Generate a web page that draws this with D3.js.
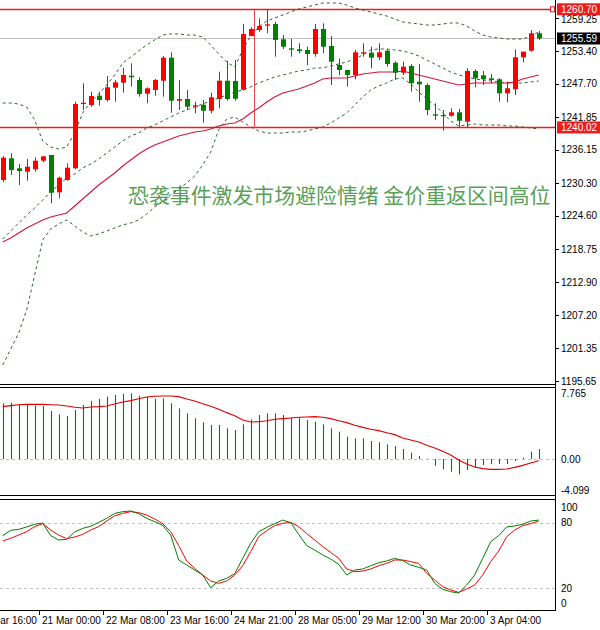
<!DOCTYPE html>
<html><head><meta charset="utf-8">
<script src="https://cdn.jsdelivr.net/npm/d3@7"></script>
<style>body{margin:0;background:#fff}svg{display:block}</style>
</head><body><svg id="c" width="600" height="630"></svg>
<script>
// ---------- DATA ----------
const openP  = [1230.83,1234.62,1232.87,1232.28,1232.70,1234.20,1235.20,1228.67,1230.83,1232.87,1244.13,1243.95,1245.58,1244.83,1246.98,1247.85,1249.08,1248.33,1245.93,1246.58,1248.20,1252.23,1244.70,1245.00,1243.65,1244.00,1242.95,1245.00,1248.20,1248.15,1246.63,1256.03,1257.08,1257.95,1258.13,1255.45,1253.87,1253.70,1253.58,1252.88,1257.25,1254.27,1250.95,1250.08,1249.20,1252.99,1253.10,1252.30,1253.45,1251.35,1249.60,1250.78,1248.03,1247.45,1242.32,1242.20,1242.08,1242.67,1241.03,1249.90,1249.15,1248.62,1248.45,1246.00,1246.70,1252.30,1253.45,1256.50];
const highP  = [1235.03,1235.50,1233.63,1234.50,1234.80,1234.97,1235.20,1231.40,1233.75,1244.53,1247.75,1246.28,1246.28,1249.03,1248.33,1250.48,1251.25,1248.80,1247.05,1248.50,1252.53,1253.17,1248.33,1246.58,1244.53,1244.83,1246.10,1249.78,1251.70,1251.83,1258.13,1257.55,1259.12,1260.70,1258.53,1256.20,1255.50,1254.75,1254.15,1258.13,1258.25,1256.03,1252.12,1250.08,1253.58,1254.75,1254.15,1254.75,1253.70,1251.60,1251.53,1251.13,1251.13,1247.75,1244.25,1243.08,1243.37,1243.25,1250.37,1250.20,1249.90,1249.38,1248.62,1248.03,1253.70,1253.28,1257.08,1256.90];
const lowP   = [1230.48,1231.70,1229.95,1230.70,1232.28,1233.92,1226.75,1227.62,1230.70,1232.70,1243.08,1243.65,1243.83,1244.53,1244.53,1246.10,1247.15,1245.40,1244.25,1245.58,1245.40,1242.60,1243.08,1243.08,1242.50,1240.85,1242.50,1243.37,1244.70,1244.70,1246.45,1256.03,1256.78,1256.50,1252.40,1253.75,1252.40,1252.99,1250.95,1252.40,1252.99,1247.45,1249.20,1247.15,1248.45,1252.40,1250.37,1251.83,1250.65,1248.33,1249.20,1246.28,1244.53,1242.20,1241.33,1239.45,1241.90,1240.05,1239.98,1247.05,1247.45,1247.75,1244.53,1244.42,1245.70,1251.42,1253.28,1255.33];
const closeP = [1234.73,1232.58,1232.40,1233.15,1234.20,1234.97,1228.60,1231.23,1232.98,1244.13,1244.35,1245.53,1244.83,1247.05,1247.92,1249.20,1248.80,1245.88,1246.87,1248.33,1252.23,1244.70,1245.00,1243.65,1243.90,1242.95,1245.30,1248.20,1245.00,1245.05,1256.38,1257.25,1257.78,1258.07,1255.33,1254.15,1253.63,1253.40,1252.88,1257.25,1254.15,1251.53,1250.08,1249.20,1253.17,1253.17,1252.23,1253.17,1251.13,1249.60,1250.65,1247.75,1247.57,1243.08,1242.08,1242.08,1242.67,1241.20,1249.90,1248.62,1248.45,1248.33,1246.00,1246.87,1252.30,1253.28,1256.50,1255.59];

const bbUpper  = [1244.30,1244.30,1244.13,1243.60,1241.33,1237.65,1236.60,1236.25,1236.60,1239.05,1242.55,1244.48,1245.88,1247.45,1249.20,1251.30,1252.35,1253.40,1254.45,1255.33,1256.20,1256.38,1256.38,1256.20,1256.20,1255.85,1254.45,1252.88,1251.48,1250.60,1253.58,1256.03,1257.60,1258.65,1259.18,1259.70,1260.23,1260.75,1261.10,1261.45,1261.80,1261.80,1261.80,1261.45,1260.93,1260.58,1260.23,1259.88,1259.53,1259.00,1258.48,1258.30,1258.13,1257.95,1257.95,1258.13,1258.30,1258.30,1257.78,1256.90,1256.20,1255.85,1255.68,1255.50,1255.50,1255.50,1256.03,1256.73];
const bbMiddle = [1220.50,1221.90,1223.30,1224.70,1225.93,1227.33,1228.73,1229.95,1231.18,1231.88,1232.93,1233.63,1234.50,1235.55,1236.60,1237.65,1238.53,1239.05,1239.93,1240.45,1241.15,1241.85,1242.55,1243.08,1243.60,1244.13,1244.65,1245.18,1245.70,1246.23,1246.58,1247.10,1247.80,1248.33,1248.85,1249.20,1249.55,1249.90,1250.08,1250.43,1250.43,1250.78,1251.13,1251.48,1252.00,1252.70,1253.58,1253.75,1253.75,1253.58,1253.40,1253.05,1252.53,1251.83,1251.13,1250.43,1249.73,1249.20,1248.85,1248.50,1248.33,1248.15,1247.98,1247.80,1247.80,1247.80,1247.98,1248.15];
const bbLower  = [1198.45,1201.25,1204.05,1208.08,1214.20,1220.33,1222.25,1223.13,1223.83,1222.78,1221.73,1221.03,1221.38,1221.90,1222.43,1222.95,1223.30,1223.83,1224.88,1226.10,1227.15,1228.20,1229.25,1230.30,1231.53,1233.45,1235.73,1239.58,1241.50,1241.85,1240.98,1240.10,1239.40,1239.05,1239.05,1239.05,1239.23,1239.23,1239.40,1239.75,1240.10,1240.80,1241.68,1242.55,1243.95,1245.35,1246.58,1247.28,1247.80,1248.50,1248.68,1247.63,1246.23,1245.00,1243.95,1242.55,1241.15,1240.28,1240.45,1240.63,1240.45,1240.45,1240.45,1240.28,1240.28,1240.10,1239.93,1239.75];
const maLine   = [1219.98,1220.68,1221.55,1222.43,1223.13,1223.83,1224.35,1224.70,1225.05,1226.28,1227.50,1228.73,1229.95,1231.00,1232.05,1233.28,1234.33,1235.38,1236.25,1236.95,1237.48,1238.00,1238.53,1238.88,1239.23,1239.40,1239.75,1240.28,1240.63,1240.80,1241.50,1242.55,1243.43,1244.48,1245.35,1246.05,1246.40,1246.75,1247.28,1247.80,1248.50,1248.68,1248.68,1248.68,1249.03,1249.38,1249.55,1249.73,1249.73,1249.73,1249.90,1249.55,1249.20,1248.85,1248.50,1248.15,1247.80,1247.45,1247.63,1247.80,1247.80,1247.80,1247.80,1247.80,1247.98,1248.50,1248.85,1249.20];

const macdHist   = [6.58,6.66,6.50,6.46,6.31,6.27,5.68,5.28,5.08,5.79,6.39,6.86,7.10,7.37,7.57,7.69,7.765,7.49,7.37,7.10,7.17,6.58,5.99,5.40,4.81,4.34,4.02,4.02,3.63,3.43,4.10,4.69,5.20,5.40,5.40,5.20,4.89,4.89,4.61,4.41,4.10,3.63,3.23,2.64,2.44,2.44,2.13,1.97,1.73,1.54,1.18,0.75,0.35,0.04,-0.79,-1.22,-1.50,-1.81,-1.30,-0.99,-0.71,-0.59,-0.59,-0.59,-0.24,0.16,0.87,1.18];
const macdSignal = [6.19,6.31,6.42,6.46,6.46,6.46,6.42,6.39,6.27,6.11,6.03,6.15,6.19,6.27,6.50,6.74,6.90,7.13,7.33,7.41,7.45,7.45,7.37,7.10,6.86,6.54,6.23,5.87,5.48,5.12,4.61,4.38,4.41,4.53,4.69,4.77,4.85,4.93,4.97,5.01,4.93,4.77,4.53,4.30,3.98,3.74,3.51,3.35,3.11,2.88,2.48,2.25,2.01,1.62,1.30,0.91,0.47,-0.12,-0.59,-0.95,-1.14,-1.22,-1.22,-1.18,-0.99,-0.75,-0.47,-0.20];

const stochK = [68.1,73.0,73.9,76.1,78.5,79.7,68.1,64.2,64.8,71.5,74.8,76.7,80.3,84.0,88.5,90.1,90.7,88.2,84.0,80.9,77.6,68.7,45.9,41.3,36.7,32.2,20.6,26.7,29.1,33.4,47.4,61.1,71.8,75.7,79.1,82.4,80.0,69.3,59.0,55.0,50.5,46.8,41.9,32.2,36.7,37.7,40.7,43.4,45.0,47.4,45.3,41.3,39.2,36.7,24.6,19.1,16.9,15.7,23.0,32.2,47.4,62.6,68.1,76.1,77.0,78.5,81.5,82.4];
const stochD = [63.3,65.7,68.7,71.8,76.4,79.1,73.3,68.7,65.4,66.9,69.3,73.3,76.4,81.5,86.4,88.5,90.1,89.2,87.0,83.4,79.1,71.8,59.0,45.0,38.3,32.2,26.7,24.6,26.7,32.2,40.7,53.5,67.2,72.7,77.3,79.4,80.3,76.4,70.0,64.2,58.1,52.9,47.4,37.7,35.2,35.8,37.7,40.7,42.8,45.9,45.9,44.4,42.8,33.7,27.6,21.5,18.5,16.3,19.4,23.0,32.2,44.4,54.1,67.2,73.3,77.3,79.1,81.5];

const priceTicks = [1259.25,1253.40,1247.70,1241.85,1236.15,1230.30,1224.60,1218.75,1212.90,1207.20,1201.35,1195.65];
const macdTicks  = [7.765,0,-4.099];
const macdTickLabels = ["7.765","0.00","-4.099"];
const stochTicks = [100,80,20,0];
const stochLevels = [80,20];
const timeLabels = ["20 Mar 16:00","21 Mar 00:00","22 Mar 08:00","23 Mar 16:00","24 Mar 21:00","28 Mar 05:00","29 Mar 12:00","30 Mar 20:00","3 Apr 04:00"];
const timeLabelBars = [-4,4,12,20,28,36,44,52,60];
const levelLines = [1260.70,1240.02];
const bidPrice = 1255.59;
const rectStartBar = 31.45;
const title = "恐袭事件激发市场避险情绪 金价重返区间高位";

// ---------- LAYOUT ----------
const plotR = 555;
const mainTop = 0, mainBot = 384;
const macdTop = 387, macdBot = 495;
const stTop = 499, stBot = 610;
const RED = "#ff0000", GREEN = "#008000";
const FONT = "'Liberation Sans', Arial, sans-serif";

const svg = d3.select("#c");
const n = openP.length;
const x = d3.scaleLinear().domain([0, n - 1]).range([2.7, 538.7]);
const yP = d3.scaleLinear().domain([1195.65, 1253.40]).range([381, 51]);
const yM = d3.scaleLinear().domain([-4.099, 7.765]).range([493.7, 393.3]);
const yS = d3.scaleLinear().domain([0, 100]).range([610.2, 500.8]);

const defs = svg.append("defs");
function clip(id, y0, y1) {
  defs.append("clipPath").attr("id", id).append("rect")
    .attr("x", 0).attr("y", y0).attr("width", plotR).attr("height", y1 - y0);
}
clip("cMain", mainTop, mainBot);
clip("cMacd", macdTop, macdBot);
clip("cSt", stTop, stBot);

const gMain = svg.append("g").attr("clip-path", "url(#cMain)");
const gMacd = svg.append("g").attr("clip-path", "url(#cMacd)");
const gSt = svg.append("g").attr("clip-path", "url(#cSt)");
const idx = d3.range(n);

// title text (behind chart lines)
gMain.append("text").attr("x", 128).attr("y", 203)
  .attr("font-family", "'Noto Sans CJK SC', sans-serif").attr("font-size", 20.9)
  .attr("fill", "#5a9f5a").text(title);

// bid line
gMain.append("line").attr("x1", 0).attr("x2", plotR)
  .attr("y1", Math.round(yP(bidPrice)) + 0.5).attr("y2", Math.round(yP(bidPrice)) + 0.5)
  .attr("stroke", "#c0c0c0").attr("stroke-width", 1);

// level lines & rectangle
levelLines.forEach(v => {
  const yy = Math.round(yP(v)) + 0.5;
  gMain.append("line").attr("x1", 0).attr("x2", plotR).attr("y1", yy).attr("y2", yy)
    .attr("stroke", "#ee1c1c").attr("stroke-width", 1.3);
});
gMain.append("line")
  .attr("x1", Math.round(x(rectStartBar)) + 0.5).attr("x2", Math.round(x(rectStartBar)) + 0.5)
  .attr("y1", yP(levelLines[0])).attr("y2", yP(levelLines[1]))
  .attr("stroke", "#e04848").attr("stroke-width", 1);

// Bollinger bands
const band = arr => d3.line().x(i => x(i)).y(i => yP(arr[i]))(idx);
[bbUpper, bbMiddle, bbLower].forEach(arr => {
  gMain.append("path").attr("d", band(arr)).attr("fill", "none")
    .attr("stroke", "#2f662f").attr("stroke-width", 1).attr("stroke-dasharray", "3,3");
});
// MA line
gMain.append("path").attr("d", band(maLine)).attr("fill", "none")
  .attr("stroke", "#d2143c").attr("stroke-width", 1.1);

// candles
const cx = i => Math.round(x(i));
const col = i => closeP[i] >= openP[i] ? RED : GREEN;
gMain.selectAll("line.wick").data(idx).join("line").attr("class", "wick")
  .attr("x1", i => cx(i) + 0.5).attr("x2", i => cx(i) + 0.5)
  .attr("y1", i => yP(highP[i])).attr("y2", i => yP(lowP[i]))
  .attr("stroke", col).attr("stroke-width", 1);
gMain.selectAll("rect.body").data(idx).join("rect").attr("class", "body")
  .attr("x", i => cx(i) - 2).attr("width", 5)
  .attr("y", i => Math.min(yP(openP[i]), yP(closeP[i])))
  .attr("height", i => Math.max(1.3, Math.abs(yP(openP[i]) - yP(closeP[i]))))
  .attr("fill", col);

// anchor square at end of top line
gMain.append("rect").attr("x", plotR - 4.5).attr("y", yP(levelLines[0]) - 2.5)
  .attr("width", 4).attr("height", 5).attr("fill", "#fff").attr("stroke", "#ee1c1c").attr("stroke-width", 1);

// ---------- MACD ----------
gMacd.append("line").attr("x1", 0).attr("x2", plotR)
  .attr("y1", Math.round(yM(0)) + 0.5).attr("y2", Math.round(yM(0)) + 0.5)
  .attr("stroke", "#c0c0c0").attr("stroke-dasharray", "3,3");
gMacd.selectAll("line.h").data(idx).join("line").attr("class", "h")
  .attr("x1", i => cx(i) + 0.5).attr("x2", i => cx(i) + 0.5)
  .attr("y1", yM(0)).attr("y2", i => yM(macdHist[i]))
  .attr("stroke", GREEN).attr("stroke-width", 1.1);
gMacd.append("path").attr("d", d3.line().x(i => x(i)).y(i => yM(macdSignal[i]))(idx))
  .attr("fill", "none").attr("stroke", "#e00000").attr("stroke-width", 1.1);

// ---------- Stochastic ----------
stochLevels.forEach(v => {
  gSt.append("line").attr("x1", 0).attr("x2", plotR)
    .attr("y1", Math.round(yS(v)) + 0.5).attr("y2", Math.round(yS(v)) + 0.5)
    .attr("stroke", "#c0c0c0").attr("stroke-dasharray", "3,3");
});
gSt.append("path").attr("d", d3.line().x(i => x(i)).y(i => yS(stochD[i]))(idx))
  .attr("fill", "none").attr("stroke", "#ff0000").attr("stroke-width", 1);
gSt.append("path").attr("d", d3.line().x(i => x(i)).y(i => yS(stochK[i]))(idx))
  .attr("fill", "none").attr("stroke", "#008000").attr("stroke-width", 1);

// ---------- Frames ----------
const frame = svg.append("g").attr("stroke", "#000").attr("stroke-width", 1);
[mainBot, macdTop, macdBot, stTop, stBot].forEach(yy => {
  frame.append("line").attr("x1", 0).attr("x2", plotR + 1).attr("y1", yy + 0.5).attr("y2", yy + 0.5);
});
frame.append("line").attr("x1", plotR + 0.5).attr("x2", plotR + 0.5).attr("y1", 0).attr("y2", stBot + 1);

// ---------- Axes ----------
const ax = svg.append("g").attr("font-family", FONT).attr("font-size", 10).attr("fill", "#000");
priceTicks.forEach(v => {
  const yy = yP(v);
  svg.append("line").attr("x1", plotR).attr("x2", plotR + 4)
    .attr("y1", Math.round(yy) + 0.5).attr("y2", Math.round(yy) + 0.5).attr("stroke", "#000");
  ax.append("text").attr("x", 561).attr("y", Math.max(yy, 19.5)).attr("dy", "0.35em").text(v.toFixed(2));
});
macdTicks.forEach((v, k) => {
  const yy = Math.max(393, Math.min(490, yM(v)));
  ax.append("text").attr("x", 561).attr("y", yy).attr("dy", "0.35em").text(macdTickLabels[k]);
});
stochTicks.forEach(v => {
  const yy = Math.max(507, Math.min(603, yS(v)));
  ax.append("text").attr("x", 561).attr("y", yy).attr("dy", "0.35em").text(v);
});

// price boxes
function priceBox(v, fill, label) {
  const yy = yP(v);
  svg.append("rect").attr("x", 557).attr("y", yy - 6).attr("width", 43).attr("height", 12).attr("fill", fill);
  svg.append("text").attr("x", 561).attr("y", yy).attr("dy", "0.35em").attr("font-family", FONT)
    .attr("font-size", 10).attr("fill", "#fff").text(label);
}
priceBox(levelLines[0], "#ee1c1c", levelLines[0].toFixed(2));
priceBox(levelLines[1], "#ee1c1c", levelLines[1].toFixed(2));
priceBox(bidPrice, "#000", bidPrice.toFixed(2));

// time labels
timeLabels.forEach((t, k) => {
  const xx = Math.round(x(timeLabelBars[k])) + 4;
  svg.append("line").attr("x1", xx + 0.5).attr("x2", xx + 0.5).attr("y1", stBot + 1).attr("y2", stBot + 5).attr("stroke", "#000");
  ax.append("text").attr("x", xx + 3).attr("y", 620).attr("dy", "0.35em").text(t);
});
</script></body></html>
